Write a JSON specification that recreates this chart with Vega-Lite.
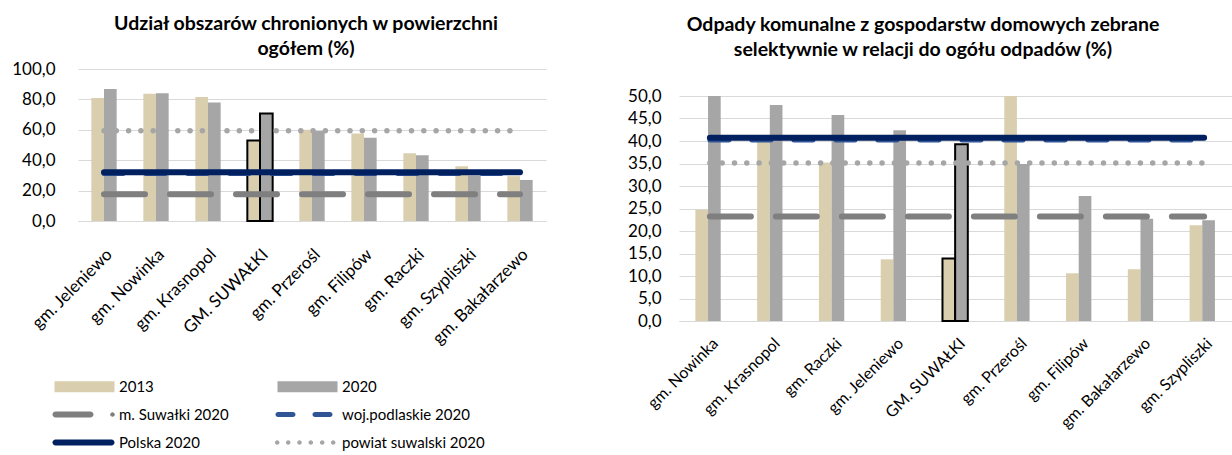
{
  "$schema": "https://vega.github.io/schema/vega-lite/v6.json",
  "padding": {"left": 11, "top": 13, "right": 0, "bottom": 0},
  "background": "white",
  "config": {
    "view": {"stroke": null},
    "font": "Lato",
    "axis": {"labelFont": "Lato", "labelColor": "#000000", "titleFont": "Lato", "labelOverlap": false},
    "title": {"font": "Lato", "fontWeight": "bold", "fontSize": 19.5, "color": "#000000", "lineHeight": 25, "anchor": "middle"}
  },
  "datasets": {
    "leftBars": [
      {"gmina": "gm. Jeleniewo", "series": "2013", "value": 80.9},
      {"gmina": "gm. Jeleniewo", "series": "2020", "value": 86.8},
      {"gmina": "gm. Nowinka", "series": "2013", "value": 83.7},
      {"gmina": "gm. Nowinka", "series": "2020", "value": 84.0},
      {"gmina": "gm. Krasnopol", "series": "2013", "value": 81.5},
      {"gmina": "gm. Krasnopol", "series": "2020", "value": 78.0},
      {"gmina": "GM. SUWAŁKI", "series": "2013", "value": 53.0},
      {"gmina": "GM. SUWAŁKI", "series": "2020", "value": 70.8},
      {"gmina": "gm. Przerośl", "series": "2013", "value": 60.0},
      {"gmina": "gm. Przerośl", "series": "2020", "value": 59.2},
      {"gmina": "gm. Filipów", "series": "2013", "value": 57.6},
      {"gmina": "gm. Filipów", "series": "2020", "value": 54.7},
      {"gmina": "gm. Raczki", "series": "2013", "value": 44.6},
      {"gmina": "gm. Raczki", "series": "2020", "value": 43.3},
      {"gmina": "gm. Szypliszki", "series": "2013", "value": 36.0},
      {"gmina": "gm. Szypliszki", "series": "2020", "value": 30.0},
      {"gmina": "gm. Bakałarzewo", "series": "2013", "value": 29.5},
      {"gmina": "gm. Bakałarzewo", "series": "2020", "value": 27.0}
    ],
    "leftLines": [
      {"series": "m. Suwałki 2020", "value": 17.6, "from": "gm. Jeleniewo", "to": "gm. Bakałarzewo"},
      {"series": "woj.podlaskie 2020", "value": 31.2, "from": "gm. Jeleniewo", "to": "gm. Bakałarzewo"},
      {"series": "Polska 2020", "value": 32.0, "from": "gm. Jeleniewo", "to": "gm. Bakałarzewo"},
      {"series": "powiat suwalski 2020", "value": 59.3, "from": "gm. Jeleniewo", "to": "gm. Bakałarzewo"}
    ],
    "rightBars": [
      {"gmina": "gm. Nowinka", "series": "2013", "value": 24.7},
      {"gmina": "gm. Nowinka", "series": "2020", "value": 50.0},
      {"gmina": "gm. Krasnopol", "series": "2013", "value": 39.9},
      {"gmina": "gm. Krasnopol", "series": "2020", "value": 48.0},
      {"gmina": "gm. Raczki", "series": "2013", "value": 35.2},
      {"gmina": "gm. Raczki", "series": "2020", "value": 45.8},
      {"gmina": "gm. Jeleniewo", "series": "2013", "value": 13.7},
      {"gmina": "gm. Jeleniewo", "series": "2020", "value": 42.4},
      {"gmina": "GM. SUWAŁKI", "series": "2013", "value": 13.9},
      {"gmina": "GM. SUWAŁKI", "series": "2020", "value": 39.3},
      {"gmina": "gm. Przerośl", "series": "2013", "value": 50.0},
      {"gmina": "gm. Przerośl", "series": "2020", "value": 34.9},
      {"gmina": "gm. Filipów", "series": "2013", "value": 10.6},
      {"gmina": "gm. Filipów", "series": "2020", "value": 27.8},
      {"gmina": "gm. Bakałarzewo", "series": "2013", "value": 11.5},
      {"gmina": "gm. Bakałarzewo", "series": "2020", "value": 22.7},
      {"gmina": "gm. Szypliszki", "series": "2013", "value": 21.3},
      {"gmina": "gm. Szypliszki", "series": "2020", "value": 22.4}
    ],
    "rightLines": [
      {"series": "m. Suwałki 2020", "value": 23.2, "from": "gm. Nowinka", "to": "gm. Szypliszki"},
      {"series": "woj.podlaskie 2020", "value": 40.2, "from": "gm. Nowinka", "to": "gm. Szypliszki"},
      {"series": "Polska 2020", "value": 40.7, "from": "gm. Nowinka", "to": "gm. Szypliszki"},
      {"series": "powiat suwalski 2020", "value": 35.1, "from": "gm. Nowinka", "to": "gm. Szypliszki"}
    ]
  },
  "spacing": 81,
  "resolve": {"legend": {"color": "independent", "shape": "independent"}},
  "hconcat": [
    {
      "width": 468,
      "height": 152,
      "title": {"text": ["Udział obszarów chronionych w powierzchni", "ogółem (%)"], "offset": 1, "dx": -6},
      "encoding": {
        "x": {"type": "nominal", "title": null,
          "scale": {"domain": ["gm. Jeleniewo", "gm. Nowinka", "gm. Krasnopol", "GM. SUWAŁKI", "gm. Przerośl", "gm. Filipów", "gm. Raczki", "gm. Szypliszki", "gm. Bakałarzewo"], "paddingInner": 0.513, "paddingOuter": 0.2565},
          "axis": {"labelAngle": -45, "labelFontSize": 17, "ticks": false, "domainColor": "#D9D9D9", "domainWidth": 1, "labelPadding": 25, "grid": false}},
        "y": {"field": "value", "type": "quantitative", "title": null,
          "scale": {"domain": [0, 100]},
          "axis": {"values": [0, 20, 40, 60, 80, 100], "labelOverlap": false, "labelExpr": "replace(format(datum.value, '.1f'), '.', ',')", "labelFontSize": 17, "labelPadding": 23, "ticks": false, "domain": false, "gridColor": "#D9D9D9", "gridWidth": 1.2}}
      },
      "layer": [
        {
          "data": {"name": "leftLines"},
          "mark": {"type": "point", "filled": true, "opacity": 0},
          "encoding": {
            "x": {"field": "from"},
            "color": {"field": "series", "type": "nominal",
              "scale": {"domain": ["2013", "2020", "m. Suwałki 2020", "woj.podlaskie 2020", "Polska 2020", "powiat suwalski 2020"], "range": ["#D9CFAE", "#A6A6A6", "#7F7F7F", "#2F5597", "#002060", "#A6A6A6"]},
              "legend": {"title": null, "orient": "none", "legendX": -28, "legendY": 310, "columns": 2, "direction": "horizontal",
                "columnPadding": 44, "rowPadding": 12, "labelOffset": 54, "symbolSize": 100, "symbolOpacity": 1, "symbolStrokeWidth": 0,
                "labelFont": "Lato", "labelFontSize": 15, "labelColor": "#000000", "labelLimit": 300}},
            "shape": {"field": "series", "type": "nominal",
              "scale": {"domain": ["2013", "2020", "m. Suwałki 2020", "woj.podlaskie 2020", "Polska 2020", "powiat suwalski 2020"],
                "range": [
                  "M-0.6,-1.1H11.4V1.1H-0.6Z",
                  "M-0.6,-1.1H11.4V1.1H-0.6Z",
                  "M-0.4,-0.6H6.6A0.6,0.6 0 0 1 6.6,0.6H-0.4A0.6,0.6 0 0 1 -0.4,-0.6ZM10.54,0A0.46,0.46 0 1 0 11.46,0A0.46,0.46 0 1 0 10.54,0Z",
                  "M-0.5,-0.5H2.5A0.5,0.5 0 0 1 2.5,0.5H-0.5A0.5,0.5 0 0 1 -0.5,-0.5ZM6.9,-0.5H9.9A0.5,0.5 0 0 1 9.9,0.5H6.9A0.5,0.5 0 0 1 6.9,-0.5Z",
                  "M-0.4,-0.6H10.8A0.6,0.6 0 0 1 10.8,0.6H-0.4A0.6,0.6 0 0 1 -0.4,-0.6Z",
                  "M-1.12,0A0.46,0.46 0 1 0 -0.2,0A0.46,0.46 0 1 0 -1.12,0ZM1.08,0A0.46,0.46 0 1 0 2,0A0.46,0.46 0 1 0 1.08,0ZM3.34,0A0.46,0.46 0 1 0 4.26,0A0.46,0.46 0 1 0 3.34,0ZM5.6,0A0.46,0.46 0 1 0 6.52,0A0.46,0.46 0 1 0 5.6,0ZM7.88,0A0.46,0.46 0 1 0 8.8,0A0.46,0.46 0 1 0 7.88,0ZM10.08,0A0.46,0.46 0 1 0 11,0A0.46,0.46 0 1 0 10.08,0Z"
                ]},
              "legend": {"title": null, "orient": "none", "legendX": -28, "legendY": 310, "columns": 2, "direction": "horizontal",
                "columnPadding": 44, "rowPadding": 12, "labelOffset": 54, "symbolSize": 100, "symbolOpacity": 1, "symbolStrokeWidth": 0,
                "labelFont": "Lato", "labelFontSize": 15, "labelColor": "#000000", "labelLimit": 300}}
          }
        },
        {
          "data": {"name": "leftBars"},
          "transform": [{"filter": "datum.series === '2013'"}],
          "mark": {"type": "bar", "color": "#D9CFAE", "strokeWidth": 2},
          "encoding": {
            "x": {"field": "gmina"},
            "xOffset": {"field": "series", "type": "nominal", "scale": {"domain": ["2013", "2020"], "paddingInner": 0, "paddingOuter": 0}},
            "stroke": {"condition": {"test": "datum.gmina === 'GM. SUWAŁKI'", "value": "#000000"}, "value": null}
          }
        },
        {
          "data": {"name": "leftBars"},
          "transform": [{"filter": "datum.series === '2020'"}],
          "mark": {"type": "bar", "color": "#A6A6A6", "strokeWidth": 2},
          "encoding": {
            "x": {"field": "gmina"},
            "xOffset": {"field": "series", "type": "nominal", "scale": {"domain": ["2013", "2020"], "paddingInner": 0, "paddingOuter": 0}},
            "stroke": {"condition": {"test": "datum.gmina === 'GM. SUWAŁKI'", "value": "#000000"}, "value": null}
          }
        },
        {
          "data": {"name": "leftLines"},
          "transform": [{"filter": "datum.series === 'm. Suwałki 2020'"}],
          "mark": {"type": "rule", "color": "#7F7F7F", "strokeWidth": 6, "strokeCap": "round", "strokeDash": [41, 25]},
          "encoding": {"x": {"field": "from"}, "x2": {"field": "to"}}
        },
        {
          "data": {"name": "leftLines"},
          "transform": [{"filter": "datum.series === 'woj.podlaskie 2020'"}],
          "mark": {"type": "rule", "color": "#2F5597", "strokeWidth": 5, "strokeCap": "round", "strokeDash": [19, 23]},
          "encoding": {"x": {"field": "from"}, "x2": {"field": "to"}}
        },
        {
          "data": {"name": "leftLines"},
          "transform": [{"filter": "datum.series === 'Polska 2020'"}],
          "mark": {"type": "rule", "color": "#002060", "strokeWidth": 6, "strokeCap": "round"},
          "encoding": {"x": {"field": "from"}, "x2": {"field": "to"}}
        },
        {
          "data": {"name": "leftLines"},
          "transform": [{"filter": "datum.series === 'powiat suwalski 2020'"}],
          "mark": {"type": "rule", "color": "#A6A6A6", "strokeWidth": 5.5, "strokeCap": "round", "strokeDash": [0, 12.3]},
          "encoding": {"x": {"field": "from"}, "x2": {"field": "to"}}
        }
      ]
    },
    {
      "width": 556,
      "height": 252,
      "title": {"text": ["Odpady komunalne z gospodarstw domowych zebrane", "selektywnie w relacji do ogółu odpadów (%)"], "offset": 0, "dy": -9, "dx": -34},
      "encoding": {
        "x": {"type": "nominal", "title": null,
          "scale": {"domain": ["gm. Nowinka", "gm. Krasnopol", "gm. Raczki", "gm. Jeleniewo", "GM. SUWAŁKI", "gm. Przerośl", "gm. Filipów", "gm. Bakałarzewo", "gm. Szypliszki"], "paddingInner": 0.53, "paddingOuter": 0.265},
          "axis": {"labelAngle": -45, "labelFontSize": 16, "ticks": false, "domainColor": "#D9D9D9", "domainWidth": 1, "labelPadding": 14, "grid": false}},
        "y": {"field": "value", "type": "quantitative", "title": null,
          "scale": {"domain": [0, 56]},
          "axis": {"values": [0, 5, 10, 15, 20, 25, 30, 35, 40, 45, 50], "labelOverlap": false, "labelExpr": "replace(format(datum.value, '.1f'), '.', ',')", "labelFontSize": 17, "labelPadding": 18, "ticks": false, "domain": false, "gridColor": "#D9D9D9", "gridWidth": 1.2}}
      },
      "layer": [
        {
          "data": {"name": "rightBars"},
          "transform": [{"filter": "datum.series === '2013'"}],
          "mark": {"type": "bar", "color": "#D9CFAE", "strokeWidth": 2},
          "encoding": {
            "x": {"field": "gmina"},
            "xOffset": {"field": "series", "type": "nominal", "scale": {"domain": ["2013", "2020"], "paddingInner": 0, "paddingOuter": 0}},
            "stroke": {"condition": {"test": "datum.gmina === 'GM. SUWAŁKI'", "value": "#000000"}, "value": null}
          }
        },
        {
          "data": {"name": "rightBars"},
          "transform": [{"filter": "datum.series === '2020'"}],
          "mark": {"type": "bar", "color": "#A6A6A6", "strokeWidth": 2},
          "encoding": {
            "x": {"field": "gmina"},
            "xOffset": {"field": "series", "type": "nominal", "scale": {"domain": ["2013", "2020"], "paddingInner": 0, "paddingOuter": 0}},
            "stroke": {"condition": {"test": "datum.gmina === 'GM. SUWAŁKI'", "value": "#000000"}, "value": null}
          }
        },
        {
          "data": {"name": "rightLines"},
          "transform": [{"filter": "datum.series === 'm. Suwałki 2020'"}],
          "mark": {"type": "rule", "color": "#7F7F7F", "strokeWidth": 6, "strokeCap": "round", "strokeDash": [41, 25]},
          "encoding": {"x": {"field": "from"}, "x2": {"field": "to"}}
        },
        {
          "data": {"name": "rightLines"},
          "transform": [{"filter": "datum.series === 'woj.podlaskie 2020'"}],
          "mark": {"type": "rule", "color": "#2F5597", "strokeWidth": 5, "strokeCap": "round", "strokeDash": [19, 23]},
          "encoding": {"x": {"field": "from"}, "x2": {"field": "to"}}
        },
        {
          "data": {"name": "rightLines"},
          "transform": [{"filter": "datum.series === 'Polska 2020'"}],
          "mark": {"type": "rule", "color": "#002060", "strokeWidth": 6, "strokeCap": "round"},
          "encoding": {"x": {"field": "from"}, "x2": {"field": "to"}}
        },
        {
          "data": {"name": "rightLines"},
          "transform": [{"filter": "datum.series === 'powiat suwalski 2020'"}],
          "mark": {"type": "rule", "color": "#A6A6A6", "strokeWidth": 5.5, "strokeCap": "round", "strokeDash": [0, 12.3]},
          "encoding": {"x": {"field": "from"}, "x2": {"field": "to"}}
        }
      ]
    }
  ]
}
